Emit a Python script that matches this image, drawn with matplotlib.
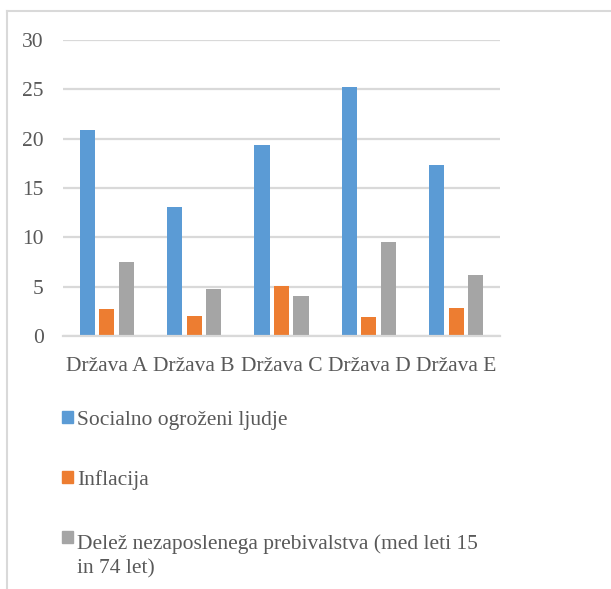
import matplotlib
matplotlib.use("Agg")
import matplotlib.pyplot as plt
from matplotlib.lines import Line2D
from matplotlib.patches import Rectangle
import numpy as np

categories = ["Država A", "Država B", "Država C", "Država D", "Država E"]
series_names = ["Socialno ogroženi ljudje", "Inflacija",
                "Delež nezaposlenega prebivalstva (med leti 15\nin 74 let)"]
socialno = [20.9, 13.1, 19.4, 25.2, 17.3]
inflacija = [2.7, 2.0, 5.1, 1.9, 2.8]
nezaposleni = [7.5, 4.8, 4.1, 9.5, 6.2]
yticks = [0, 5, 10, 15, 20, 25, 30]

colors = ["#5B9BD5", "#ED7D31", "#A5A5A5"]
txt = "#595959"
grid = "#D9D9D9"

W, H = 611, 589
plt.rcParams['font.family'] = ['Liberation Serif', 'DejaVu Serif']
fig = plt.figure(figsize=(W / 100, H / 100), dpi=100)

def fx(px):
    return px / W

def fy(py):
    return 1 - py / H

ax = fig.add_axes([fx(63), fy(336), fx(500) - fx(63), fy(40) - fy(336)])
x = np.arange(len(categories))
bw = 0.172
step = 0.223
for i, vals in enumerate([socialno, inflacija, nezaposleni]):
    ax.bar(x + (i - 1) * step, vals, width=bw, color=colors[i], zorder=3)

ax.set_xlim(-0.5, len(categories) - 0.5)
ax.set_ylim(0, 30)
ax.set_yticks(yticks)
ax.set_yticklabels([str(t) for t in yticks])
ax.set_xticks(x)
ax.set_xticklabels(categories)
ax.yaxis.grid(True, color=grid, linewidth=1.6, zorder=0)
for s in ["top", "right", "left"]:
    ax.spines[s].set_visible(False)
ax.spines["bottom"].set_color(grid)
ax.spines["bottom"].set_linewidth(1.6)
ax.spines["bottom"].set_zorder(4)
ax.tick_params(axis="both", length=0, labelsize=15.5, colors=txt)
ax.tick_params(axis="y", pad=14)
ax.tick_params(axis="x", pad=15)

# chart border
fig.add_artist(Line2D([fx(7), 1.0], [fy(11), fy(11)], color=grid, linewidth=1.5))
fig.add_artist(Line2D([fx(7), fx(7)], [fy(11), 0.0], color=grid, linewidth=1.5))

# legend
baselines = [425, 485, 545]
line_gap = 28
for i, name in enumerate(series_names):
    b = baselines[i]
    nlines = name.count("\n") + 1
    fig.add_artist(Rectangle((fx(62), fy(b - 2)), fx(11), fy(0) - fy(12),
                             transform=fig.transFigure, color=colors[i]))
    fig.text(fx(77), fy(b + line_gap * (nlines - 1)), name, fontsize=15.5,
             color=txt, va="baseline", ha="left", linespacing=1.3)

fig.savefig("out.png", dpi=100)
